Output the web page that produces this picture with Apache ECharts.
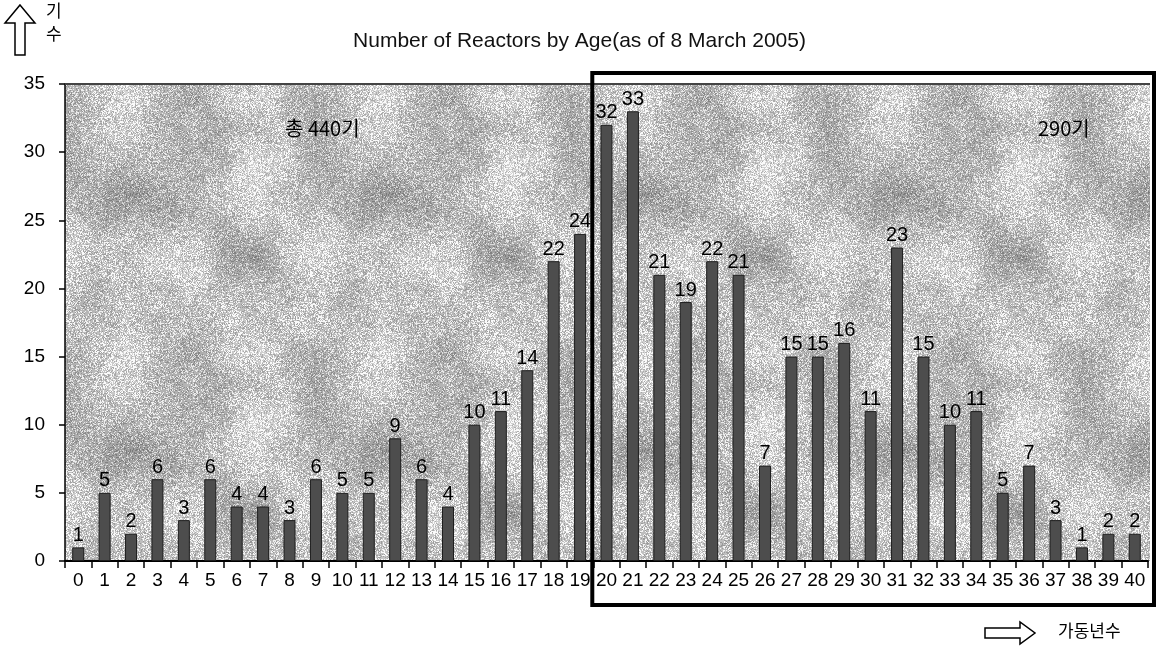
<!DOCTYPE html>
<html>
<head>
<meta charset="utf-8">
<script src="https://cdn.jsdelivr.net/npm/echarts@6/dist/echarts.min.js"></script>
<style>
  html, body { margin: 0; padding: 0; background: #fff; }
  #chart { width: 1159px; height: 647px; }
</style>
</head>
<body>
<div id="chart"></div>
<script>
// Reactor counts by years in operation
const ages = ['0','1','2','3','4','5','6','7','8','9','10','11','12','13','14','15','16','17','18','19','20',
              '21','22','23','24','25','26','27','28','29','30','31','32','33','34','35','36','37','38','39','40'];
const reactors = [1,5,2,6,3,6,4,4,3,6,5,5,9,6,4,10,11,14,22,24,32,
                  33,21,19,22,21,7,15,15,16,11,23,15,10,11,5,7,3,1,2,2];
const yTicks = { min: 0, max: 35, interval: 5 };
const titleText = 'Number of Reactors by Age(as of 8 March 2005)';
const totalText = '총 440기';
const boxText = '290기';
const boxStartAge = '20';

const FONT = '"Liberation Sans Narrow", "Liberation Sans", Arial, sans-serif';
const KFONT = '"Noto Sans CJK KR", "Liberation Sans", sans-serif';

// Mottled grey texture for the plot background (deterministic value noise)
function makeTexture(size) {
  const c = document.createElement('canvas');
  c.width = size; c.height = size;
  const ctx = c.getContext('2d');
  const img = ctx.createImageData(size, size);
  function h(x, y, s) {
    let n = (x * 374761393 + y * 668265263 + s * 982451653) | 0;
    n = (n ^ (n >>> 13)) * 1274126177 | 0;
    n = n ^ (n >>> 16);
    return ((n >>> 0) % 10000) / 10000;
  }
  function noise(x, y, cell, s) {
    const p = size / cell;
    const gx = x / cell, gy = y / cell;
    const x0 = Math.floor(gx), y0 = Math.floor(gy);
    const fx = gx - x0, fy = gy - y0;
    const sx = fx * fx * (3 - 2 * fx), sy = fy * fy * (3 - 2 * fy);
    const a = h(x0 % p, y0 % p, s), b = h((x0 + 1) % p, y0 % p, s);
    const c2 = h(x0 % p, (y0 + 1) % p, s), d = h((x0 + 1) % p, (y0 + 1) % p, s);
    return (a * (1 - sx) + b * sx) * (1 - sy) + (c2 * (1 - sx) + d * sx) * sy;
  }
  for (let y = 0; y < size; y++) {
    for (let x = 0; x < size; x++) {
      const v = 0.55 * noise(x, y, 64, 1) + 0.3 * noise(x, y, 32, 2) + 0.15 * noise(x, y, 16, 3);
      const light = (v - 0.5) * 2.2;
      const grain = h(x, y, 7);
      let g = 178 + light * 40;
      if (grain < 0.24 + light * 0.15) g += 55;
      else if (grain > 0.8) g -= 35;
      g = Math.max(110, Math.min(250, g));
      const i = (y * size + x) * 4;
      img.data[i] = img.data[i + 1] = img.data[i + 2] = g;
      img.data[i + 3] = 255;
    }
  }
  ctx.putImageData(img, 0, 0);
  return c;
}

const chart = echarts.init(document.getElementById('chart'), null, { renderer: 'canvas' });
const grid = { left: 65, right: 11, top: 84, bottom: 86 };

chart.setOption({
  animation: false,
  backgroundColor: '#ffffff',
  title: {
    text: titleText, left: 'center', top: 26,
    textStyle: { fontFamily: FONT, fontSize: 21, fontWeight: 'normal', color: '#111' }
  },
  grid: grid,
  xAxis: {
    type: 'category', data: ages,
    axisLine: { lineStyle: { color: '#000', width: 2 } },
    axisTick: { show: true, length: 7, lineStyle: { color: '#000', width: 1.5 } },
    axisLabel: { fontFamily: FONT, fontSize: 19, color: '#000', margin: 10, interval: 0 }
  },
  yAxis: {
    type: 'value', min: yTicks.min, max: yTicks.max, interval: yTicks.interval,
    axisLine: { show: true, lineStyle: { color: '#000', width: 1.5 } },
    axisTick: { show: true, length: 6, lineStyle: { color: '#000', width: 1.5 } },
    splitLine: { show: false },
    axisLabel: { fontFamily: FONT, fontSize: 19, color: '#000', margin: 20 }
  },
  series: [{
    type: 'bar', data: reactors, barWidth: 12,
    itemStyle: { color: '#4d4d4d', borderColor: '#1e1e1e', borderWidth: 1 },
    label: {
      show: true, position: 'top', distance: 2,
      fontFamily: FONT, fontSize: 20, color: '#000'
    },
    z: 3
  }]
});

function decorate() {
  const W = chart.getWidth(), H = chart.getHeight();
  const gx0 = grid.left, gx1 = W - grid.right, gy0 = grid.top, gy1 = H - grid.bottom;
  const bandW = (gx1 - gx0) / ages.length;
  const boxLeft = chart.convertToPixel({ xAxisIndex: 0 }, boxStartAge) - bandW / 2 - 1;
  const boxRight = W - 5;
  const boxTop = gy0 - 11, boxBottom = gy1 + 44;
  const tex = makeTexture(256);

  chart.setOption({
    graphic: [
      // textured plot background
      { type: 'rect', z: -10, silent: true,
        shape: { x: gx0, y: gy0, width: gx1 - gx0 + 2, height: gy1 - gy0 },
        style: { fill: { image: tex, repeat: 'repeat' } } },
      // top border of the plot
      { type: 'line', z: 5, silent: true,
        shape: { x1: gx0, y1: gy0, x2: gx1 + 2, y2: gy0 },
        style: { stroke: '#444', lineWidth: 2 } },
      // highlight box around ages 20 and over
      { type: 'rect', z: 10, silent: true,
        shape: { x: boxLeft, y: boxTop, width: boxRight - boxLeft, height: boxBottom - boxTop },
        style: { fill: 'none', stroke: '#000', lineWidth: 4 } },
      { type: 'text', z: 6, left: 285, top: 118,
        style: { text: totalText, font: '20px ' + KFONT, fill: '#000' } },
      { type: 'text', z: 6, left: 1038, top: 118,
        style: { text: boxText, font: '20px ' + KFONT, fill: '#000' } },
      // axis caption with up arrow
      { type: 'polygon', z: 6, silent: true,
        shape: { points: [[20, 5], [35, 23], [25, 23], [25, 55], [15, 55], [15, 23], [5, 23]] },
        style: { fill: '#fff', stroke: '#000', lineWidth: 1.5 } },
      { type: 'text', z: 6, left: 46, top: 2,
        style: { text: '기', font: '17px ' + KFONT, fill: '#000' } },
      { type: 'text', z: 6, left: 46, top: 25,
        style: { text: '수', font: '17px ' + KFONT, fill: '#000' } },
      // age caption with right arrow
      { type: 'polygon', z: 6, silent: true,
        shape: { points: [[985, 628], [1020, 628], [1020, 622], [1035, 633], [1020, 644], [1020, 638], [985, 638]] },
        style: { fill: '#fff', stroke: '#000', lineWidth: 1.5 } },
      { type: 'text', z: 6, left: 1058, top: 622,
        style: { text: '가동년수', font: '17px ' + KFONT, fill: '#000' } }
    ]
  });
}
decorate();
</script>
</body>
</html>
